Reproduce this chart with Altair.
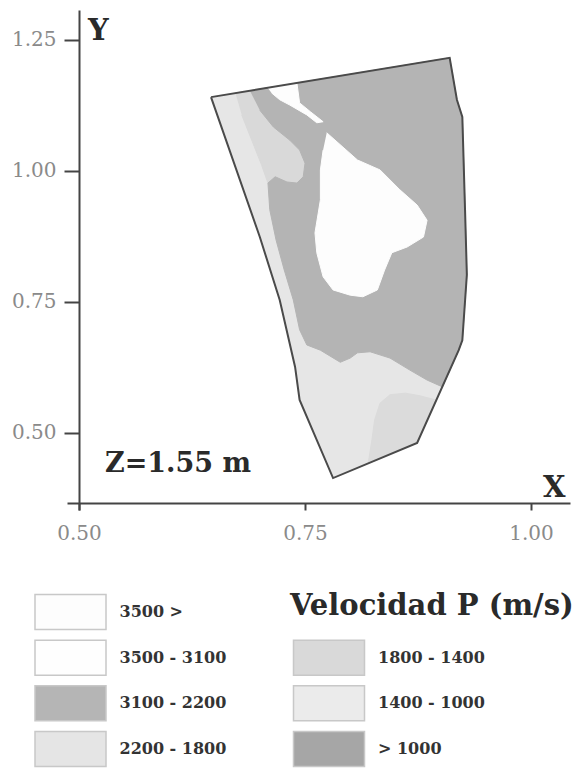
import altair as alt
import pandas as pd

# ---------------- Datos (X, Y en m) ----------------
# Contorno de la sección
contorno_x = [0.646, 0.910, 0.918, 0.924, 0.927, 0.929, 0.924, 0.920, 0.874, 0.781, 0.744, 0.739, 0.722, 0.700]
contorno_y = [1.141, 1.216, 1.136, 1.103, 0.926, 0.802, 0.677, 0.658, 0.481, 0.414, 0.563, 0.626, 0.754, 0.874]

# Zona clara superior izquierda
zona_a_x = [0.673, 0.689, 0.700, 0.715, 0.733, 0.744, 0.750, 0.748, 0.741, 0.730, 0.717, 0.709, 0.702, 0.691, 0.680]
zona_a_y = [1.149, 1.153, 1.116, 1.084, 1.059, 1.040, 1.015, 0.989, 0.977, 0.979, 0.989, 0.977, 1.011, 1.059, 1.107]

# Zona 3100 - 2200
zona_b_x = [0.689, 0.910, 0.918, 0.924, 0.927, 0.929, 0.924, 0.920, 0.902, 0.885, 0.866, 0.844, 0.822, 0.808, 0.800,
            0.789, 0.767, 0.752, 0.744, 0.737, 0.727, 0.718, 0.711, 0.709, 0.717, 0.730, 0.741, 0.748, 0.750, 0.744,
            0.733, 0.715, 0.700]
zona_b_y = [1.153, 1.216, 1.136, 1.103, 0.926, 0.802, 0.677, 0.658, 0.588, 0.601, 0.620, 0.643, 0.655, 0.653, 0.643,
            0.635, 0.658, 0.668, 0.697, 0.754, 0.811, 0.868, 0.926, 0.977, 0.989, 0.979, 0.977, 0.989, 1.015, 1.040,
            1.059, 1.084, 1.116]

# Zona inferior derecha
zona_c_x = [0.820, 0.824, 0.827, 0.833, 0.844, 0.861, 0.877, 0.895, 0.874]
zona_c_y = [0.443, 0.487, 0.525, 0.557, 0.573, 0.576, 0.571, 0.563, 0.481]

# Zona blanca central
zona_d_x = [0.774, 0.808, 0.833, 0.855, 0.874, 0.885, 0.881, 0.863, 0.846, 0.838, 0.830, 0.814, 0.800, 0.781,
            0.770, 0.763, 0.761, 0.767, 0.767, 0.770]
zona_d_y = [1.073, 1.021, 1.002, 0.964, 0.935, 0.906, 0.874, 0.855, 0.844, 0.811, 0.773, 0.760, 0.763, 0.773,
            0.798, 0.844, 0.882, 0.945, 1.002, 1.040]

# Franja blanca superior
zona_e_x = [0.709, 0.741, 0.744, 0.756, 0.770, 0.763, 0.752, 0.733, 0.722, 0.713]
zona_e_y = [1.158, 1.168, 1.130, 1.113, 1.094, 1.092, 1.107, 1.126, 1.136, 1.149]

# Leyenda
etiquetas = ["3500 >", "3500 - 3100", "3100 - 2200", "2200 - 1800", "1800 - 1400", "1400 - 1000", "> 1000"]
colores_leyenda = ["#fdfdfd", "#fefefe", "#b5b5b5", "#e5e5e5", "#d9d9d9", "#ebebeb", "#a6a6a6"]
columna = [0, 0, 0, 0, 1, 1, 1]
fila = [0, 1, 2, 3, 1, 2, 3]

ticks_x = [0.50, 0.75, 1.00]
ticks_y = [0.50, 0.75, 1.00, 1.25]
titulo_leyenda = "Velocidad P (m/s)"
texto_z = "Z=1.55 m"

SERIF = "DejaVu Serif"
AXC = "#444444"

x_enc = alt.X("x:Q",
              scale=alt.Scale(domain=[0.4867, 1.0431], nice=False, zero=False),
              axis=alt.Axis(values=ticks_x, format=".2f", orient="bottom", offset=-7, tickSize=7,
                            tickWidth=2, tickColor=AXC, domainColor=AXC, domainWidth=2,
                            labelFont=SERIF, labelFontSize=20, labelColor="#8a8a8a", labelPadding=13,
                            labelFlush=False, grid=False, title=None))
y_enc = alt.Y("y:Q",
              scale=alt.Scale(domain=[0.35305, 1.30725], nice=False, zero=False),
              axis=alt.Axis(values=ticks_y, format=".2f", orient="left", offset=-12, tickSize=15,
                            tickWidth=2, tickColor=AXC, domainColor=AXC, domainWidth=2,
                            labelFont=SERIF, labelFontSize=20, labelColor="#8a8a8a", labelPadding=8,
                            labelFlush=False, grid=False, title=None))


def poligono(xs, ys, relleno):
    df = pd.DataFrame({"x": xs, "y": ys, "orden": list(range(len(xs)))})
    return alt.Chart(df).mark_line(fill=relleno, stroke=relleno, strokeWidth=1).encode(
        x=x_enc, y=y_enc, order=alt.Order("orden:Q"))


capas = [
    poligono(contorno_x, contorno_y, "#e6e6e6"),
    poligono(zona_a_x, zona_a_y, "#d9d9d9"),
    poligono(zona_b_x, zona_b_y, "#b4b4b4"),
    poligono(zona_c_x, zona_c_y, "#dbdbdb"),
    poligono(zona_d_x, zona_d_y, "#fdfdfd"),
    poligono(zona_e_x, zona_e_y, "#fdfdfd"),
]

df_borde = pd.DataFrame({"x": contorno_x + contorno_x[:1], "y": contorno_y + contorno_y[:1],
                         "orden": list(range(len(contorno_x) + 1))})
borde = alt.Chart(df_borde).mark_line(stroke="#4a4a4a", strokeWidth=2).encode(
    x=x_enc, y=y_enc, order=alt.Order("orden:Q"))


def texto(t, px, py, size, color="#2a2a2a", weight="bold"):
    return alt.Chart(pd.DataFrame({"t": [t]})).mark_text(
        align="left", baseline="alphabetic", font=SERIF, fontSize=size, fontWeight=weight, color=color
    ).encode(text="t:N", x=alt.value(px), y=alt.value(py))


principal = alt.layer(
    *capas, borde,
    texto("Y", 21, 30, 29),
    texto("X", 476, 487, 29),
    texto(texto_z, 38, 462, 27),
    texto(titulo_leyenda, 223, 605, 29),
)

df_ley = pd.DataFrame({"etiqueta": etiquetas, "color": colores_leyenda, "col": columna, "fila": fila})
lx = alt.X("col:Q", scale=alt.Scale(domain=[0, 1], range=[3.5, 262]), axis=None)
ly = alt.Y("fila:Q", scale=alt.Scale(domain=[0, 3], range=[602, 739]), axis=None)

cajas = alt.Chart(df_ley).mark_point(
    shape="M-1,-0.493H1V0.493H-1Z", size=5041, filled=True, opacity=1,
    stroke="#c8c8c8", strokeWidth=1.5
).encode(x=lx, y=ly, fill=alt.Fill("color:N", scale=None))

textos_ley = alt.Chart(df_ley).mark_text(
    align="left", baseline="middle", dx=49, font=SERIF, fontSize=16, fontWeight="bold", color="#333333"
).encode(x=lx, y=ly, text="etiqueta:N")

leyenda = alt.layer(cajas, textos_ley)

chart = alt.layer(principal, leyenda).resolve_scale(x="independent", y="independent").properties(
    width=503, height=500,
    padding={"left": 67, "top": 10, "right": 11, "bottom": 259},
    autosize=alt.AutoSizeParams(type="none"),
    background="white",
).configure_view(strokeWidth=0)

chart.save("out.html", embed_options={"renderer": "svg", "actions": False})
